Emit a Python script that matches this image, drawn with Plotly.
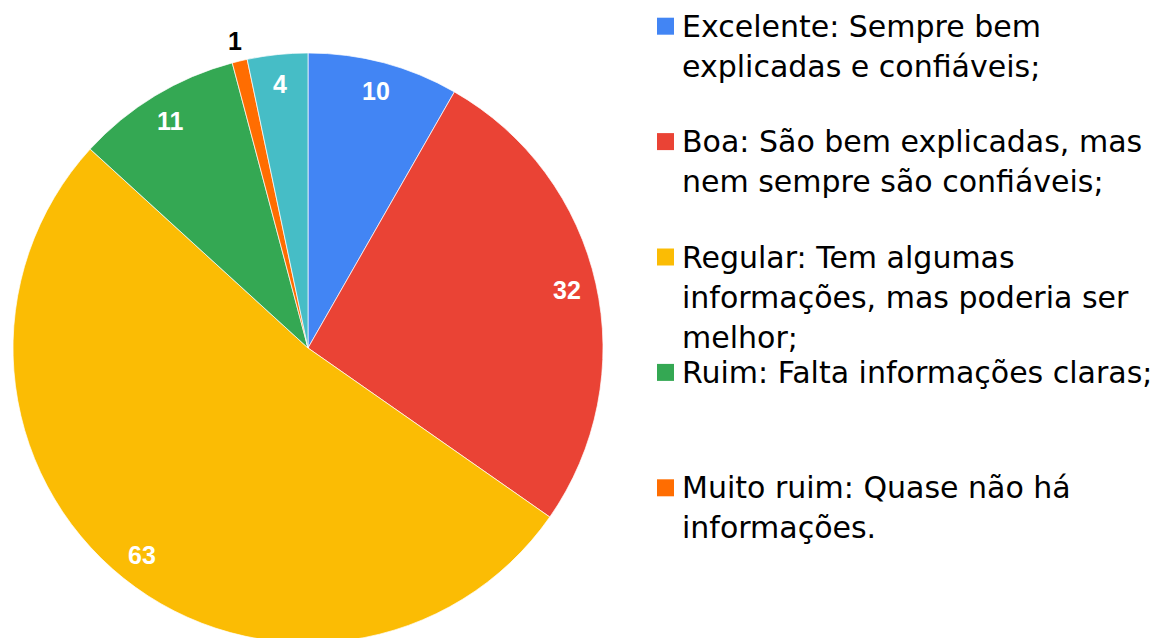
import math
import plotly.graph_objects as go

# ---------------- data ----------------
categories = [
    "Excelente: Sempre bem explicadas e confiáveis;",
    "Boa: São bem explicadas, mas nem sempre são confiáveis;",
    "Regular: Tem algumas informações, mas poderia ser melhor;",
    "Ruim: Falta informações claras;",
    "Muito ruim: Quase não há informações.",
    "Outro",
]
values = [10, 32, 63, 11, 1, 4]
colors = ["#4285F4", "#EA4335", "#FBBC04", "#34A853", "#FF6D01", "#46BDC6"]
legend_lines = [
    ["Excelente: Sempre bem", "explicadas e confiáveis;"],
    ["Boa: São bem explicadas, mas", "nem sempre são confiáveis;"],
    ["Regular: Tem algumas", "informações, mas poderia ser", "melhor;"],
    ["Ruim: Falta informações claras;"],
    ["Muito ruim: Quase não há", "informações."],
]

# ---------------- geometry ----------------
W, H = 1173, 643
CX, CY, R = 308, 348, 295
LABEL_FONT = "Liberation Sans, Arial, sans-serif"
LEGEND_FONT = "DejaVu Sans, Liberation Sans, Arial, sans-serif"
LEG_SIZE = 30


def px(x):
    return x / W


def py(y):
    return (H - y) / H


fig = go.Figure()
fig.add_trace(go.Pie(
    labels=categories,
    values=values,
    marker=dict(colors=colors, line=dict(color="white", width=0.7)),
    sort=False,
    direction="clockwise",
    rotation=0,
    textinfo="none",
    hoverinfo="label+value",
    showlegend=False,
    domain=dict(x=[px(CX - R), px(CX + R)], y=[py(CY + R), py(CY - R)]),
))

annotations = []
total = sum(values)
cum = 0
for v in values:
    a0 = cum / total * 2 * math.pi
    cum += v
    a1 = cum / total * 2 * math.pi
    mid = (a0 + a1) / 2
    inside = (a1 - a0) > math.radians(6)
    r = R * 0.9 if inside else R + 21
    x = CX + r * math.sin(mid)
    y = CY - r * math.cos(mid)
    annotations.append(dict(
        x=px(x), y=py(y), xref="paper", yref="paper",
        text=f"<b>{v}</b>", showarrow=False,
        xanchor="center", yanchor="middle",
        font=dict(family=LABEL_FONT, size=25, color="white" if inside else "black"),
    ))

shapes = []
BASE0, STEP, LINE_H, SQ = 36.7, 115.4, 40, 17
for i, lines in enumerate(legend_lines):
    base = BASE0 + i * STEP
    sq_top = base - 19
    shapes.append(dict(
        type="rect", xref="paper", yref="paper",
        x0=px(657), x1=px(657 + SQ), y0=py(sq_top + SQ), y1=py(sq_top),
        fillcolor=colors[i], line=dict(width=0),
    ))
    for j, line in enumerate(lines):
        b = base + j * LINE_H
        annotations.append(dict(
            x=px(680), y=py(b - 0.346 * LEG_SIZE), xref="paper", yref="paper",
            text=line, showarrow=False, align="left",
            xanchor="left", yanchor="middle",
            font=dict(family=LEGEND_FONT, size=LEG_SIZE, color="black"),
        ))

fig.update_layout(
    width=W, height=H,
    margin=dict(l=0, r=0, t=0, b=0),
    paper_bgcolor="white", plot_bgcolor="white",
    annotations=annotations, shapes=shapes,
    showlegend=False,
)

fig.write_html(
    "out.html",
    config={"displayModeBar": False},
    post_script="document.body.style.margin='0';document.body.style.overflow='hidden';",
)
